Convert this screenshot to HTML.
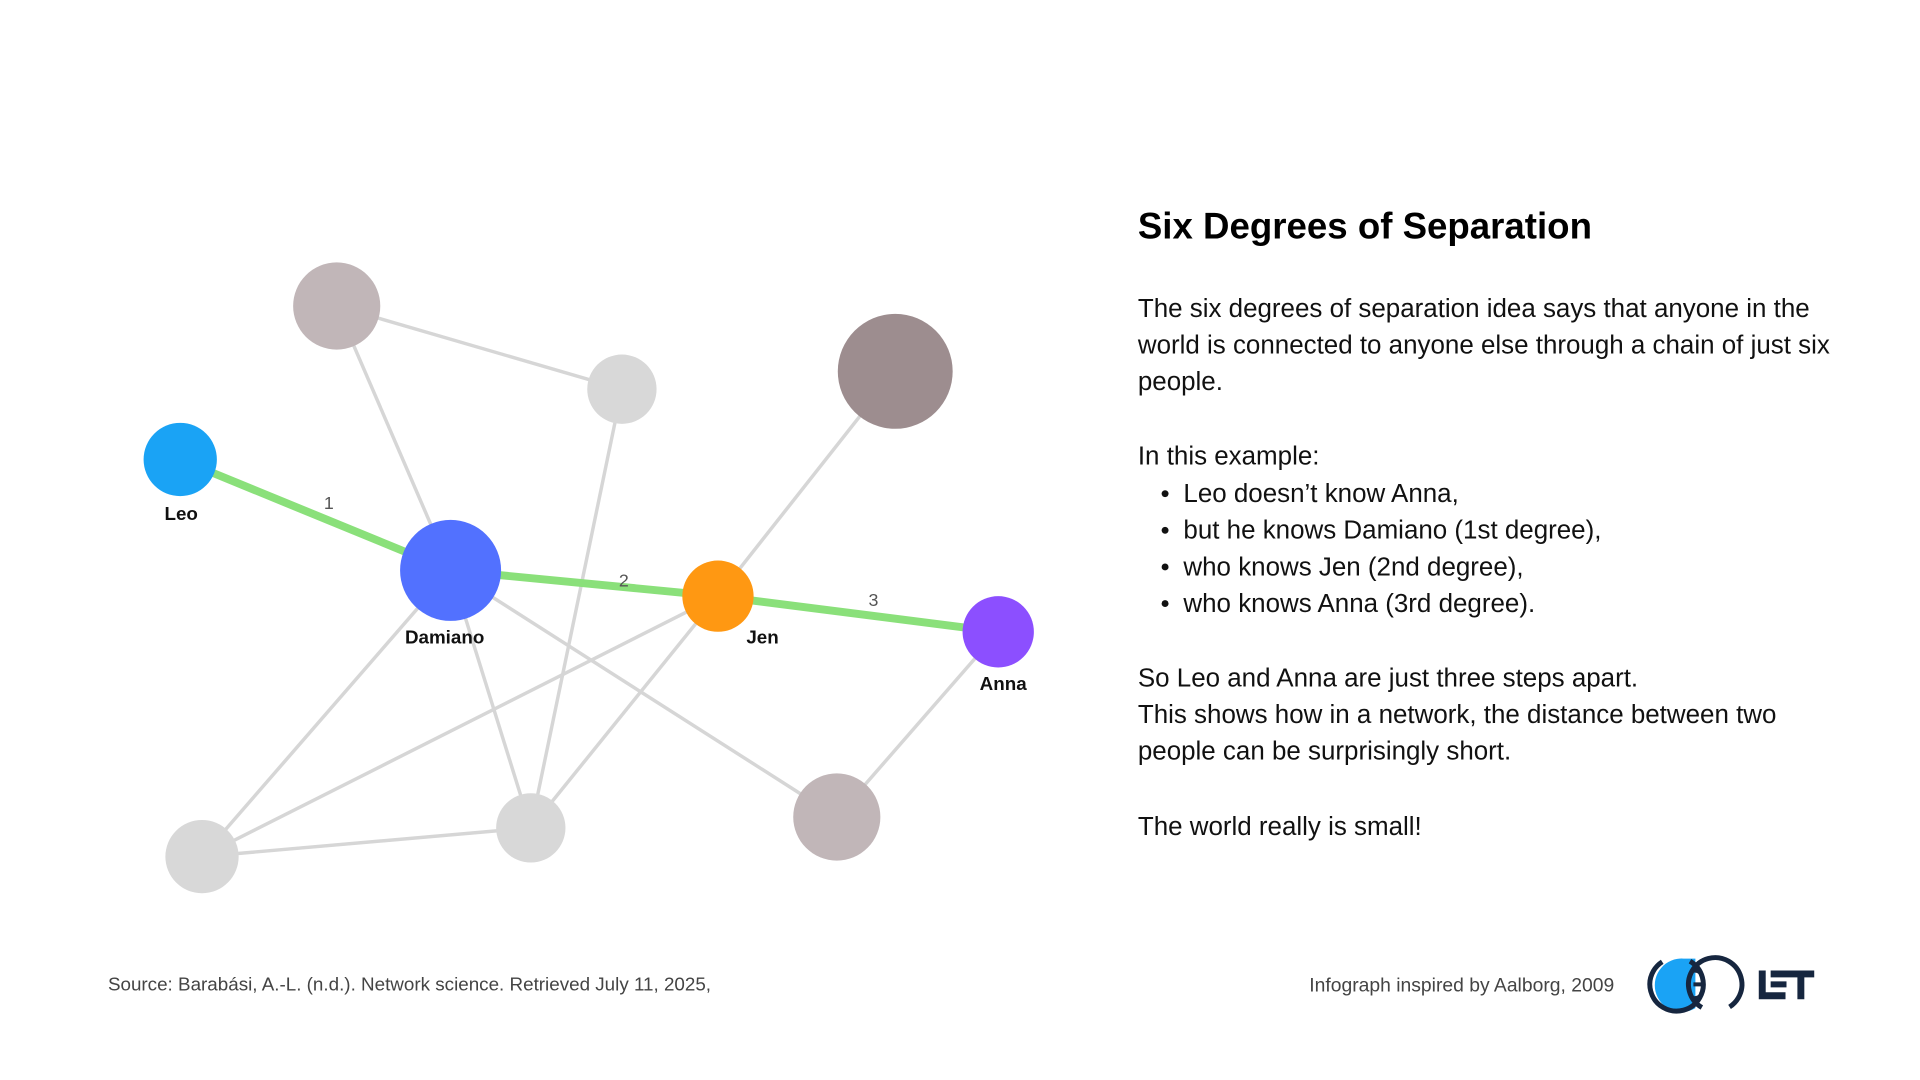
<!DOCTYPE html>
<html><head><meta charset="utf-8"><style>
body{margin:0;width:1920px;height:1080px;background:#fff;position:relative;overflow:hidden;font-family:"Liberation Sans",sans-serif;}
#w{position:absolute;left:0;top:0;width:1920px;height:1080px;transform:scale(0.9903);transform-origin:0 0;}
.t{position:absolute;left:1149px;font-size:26.2px;color:#111;white-space:nowrap;line-height:30px;}
.b{position:absolute;left:1173px;font-size:26.2px;color:#111;white-space:nowrap;line-height:30px;}
.b::before{content:"";position:absolute;left:0;top:12px;width:7px;height:7px;border-radius:50%;background:#111;}
.b span{position:absolute;left:22px;}
</style></head><body><div id="w">
<svg width="1920" height="1080" style="position:absolute;left:0;top:0">
<g stroke="#d6d6d6" stroke-width="3.5" fill="none">
<line x1="340" y1="309" x2="628" y2="393"/>
<line x1="340" y1="309" x2="455" y2="576"/>
<line x1="628" y1="393" x2="536" y2="836"/>
<line x1="904" y1="375" x2="725" y2="602"/>
<line x1="455" y1="576" x2="536" y2="836"/>
<line x1="455" y1="576" x2="845" y2="825"/>
<line x1="455" y1="576" x2="204" y2="865"/>
<line x1="725" y1="602" x2="204" y2="865"/>
<line x1="725" y1="602" x2="536" y2="836"/>
<line x1="204" y1="865" x2="536" y2="836"/>
<line x1="1008" y1="638" x2="845" y2="825"/>
</g>
<g stroke="#8ae07a" stroke-width="8" fill="none">
<line x1="182" y1="464" x2="455" y2="576"/>
<line x1="455" y1="576" x2="725" y2="602"/>
<line x1="725" y1="602" x2="1008" y2="638"/>
</g>
<circle cx="340" cy="309" r="44" fill="#c1b6b8"/>
<circle cx="628" cy="393" r="35" fill="#d8d8d8"/>
<circle cx="904" cy="375" r="58" fill="#9d8d8f"/>
<circle cx="182" cy="464" r="37" fill="#1aa3f5"/>
<circle cx="455" cy="576" r="51" fill="#5271ff"/>
<circle cx="725" cy="602" r="36" fill="#ff9812"/>
<circle cx="1008" cy="638" r="36" fill="#8c4fff"/>
<circle cx="204" cy="865" r="37" fill="#d8d8d8"/>
<circle cx="536" cy="836" r="35" fill="#d8d8d8"/>
<circle cx="845" cy="825" r="44" fill="#c1b6b8"/>
<g font-family="Liberation Sans" font-size="18" fill="#555" text-anchor="middle">
<text x="332" y="514">1</text><text x="630" y="592">2</text><text x="882" y="612">3</text>
</g>
<g font-family="Liberation Sans" font-size="19" font-weight="bold" fill="#111" text-anchor="middle">
<text x="183" y="525">Leo</text><text x="449" y="650">Damiano</text><text x="770" y="650">Jen</text><text x="1013" y="697">Anna</text>
</g>
<path d="M1700 968 A27 27 0 1 0 1712 1018 L1712 968 Z" fill="#1aa3f5"/>
<circle cx="1693" cy="994" r="27" fill="none" stroke="#16263f" stroke-width="5" stroke-dasharray="140 30" transform="rotate(-60 1693 994)"/>
<circle cx="1732" cy="994" r="27" fill="none" stroke="#16263f" stroke-width="5" stroke-dasharray="140 30" transform="rotate(120 1732 994)"/>
<path d="M1710 980 q8 0 8 6 M1710 994 h8 M1710 1008 q8 0 8 -6" stroke="#16263f" stroke-width="4" fill="none"/>
<path d="M1776 980 h7 v22 h20 v7 h-27 Z M1788 980 h20 v7 h-20 Z M1788 991 h16 v6 h-16 Z M1806 980 h26 v7 h-10 v22 h-7 v-22 h-9 Z" fill="#16263f"/>
</svg>
<div style="position:absolute;left:1149px;top:208px;font-size:37px;font-weight:bold;color:#000;white-space:nowrap;">Six Degrees of Separation</div>
<div class="t" style="top:296px">The six degrees of separation idea says that anyone in the</div>
<div class="t" style="top:333px">world is connected to anyone else through a chain of just six</div>
<div class="t" style="top:370px">people.</div>
<div class="t" style="top:445px">In this example:</div>
<div class="b" style="top:483px"><span>Leo doesn’t know Anna,</span></div>
<div class="b" style="top:520px"><span>but he knows Damiano (1st degree),</span></div>
<div class="b" style="top:557px"><span>who knows Jen (2nd degree),</span></div>
<div class="b" style="top:594px"><span>who knows Anna (3rd degree).</span></div>
<div class="t" style="top:669px">So Leo and Anna are just three steps apart.</div>
<div class="t" style="top:706px">This shows how in a network, the distance between two</div>
<div class="t" style="top:743px">people can be surprisingly short.</div>
<div class="t" style="top:819px">The world really is small!</div>
<div style="position:absolute;left:109px;top:984px;font-size:19px;color:#444;white-space:nowrap;">Source: Barabási, A.-L. (n.d.). Network science. Retrieved July 11, 2025,</div>
<div style="position:absolute;right:290px;top:984px;font-size:19.5px;color:#444;white-space:nowrap;">Infograph inspired by Aalborg, 2009</div>
</div></body></html>
